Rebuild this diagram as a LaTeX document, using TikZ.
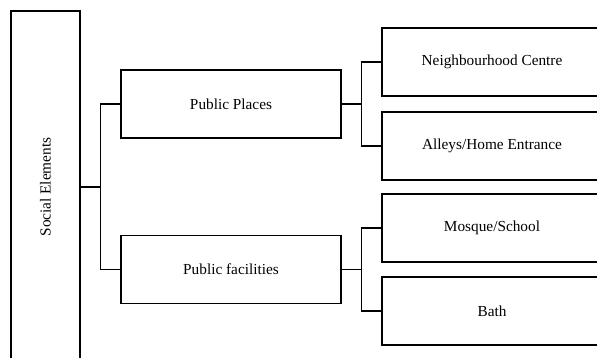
\documentclass[tikz,border=0pt]{standalone}
\usepackage{fontspec}
\setmainfont{Liberation Serif}
\usetikzlibrary{positioning}

\tikzset{
    box/.style={draw, line width=1.3pt, rectangle, minimum width=220pt, minimum height=68pt, font=\fontsize{15.3}{17}\selectfont},
    link/.style={line width=1.6pt}
}

\begin{document}
\begin{tikzpicture}[x=1pt,y=-1pt]
    \clip (0,0) rectangle (597,358);

    % Root
    \node[box, minimum width=69pt, minimum height=352pt] (social) at (45.5,187) {\rotatebox{90}{Social Elements}};

    % Middle level
    \node[box] (places) at (231,104) {Public Places};
    \node[box] (facilities) at (231,269.5) {Public facilities};

    % Leaves
    \node[box] (centre) at (492,62) {Neighbourhood Centre};
    \node[box] (alleys) at (492,146) {Alleys/Home Entrance};
    \node[box] (mosque) at (492,228) {Mosque/School};
    \node[box] (bath) at (492,311) {Bath};

    % Links
    \draw[link] (social.east) -- ++(20,0) coordinate (s) |- (places.west);
    \draw[link] (s) |- (facilities.west);
    \foreach \from/\a/\b in {places/centre/alleys, facilities/mosque/bath} {
        \draw[link] (\from.east) -- ++(20,0) coordinate (m) |- (\a.west);
        \draw[link] (m) |- (\b.west);
    }

\end{tikzpicture}
\end{document}
